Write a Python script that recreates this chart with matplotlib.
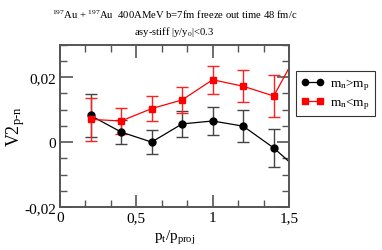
import matplotlib
matplotlib.use("Agg")
import matplotlib.pyplot as plt
from matplotlib.ticker import MultipleLocator, FuncFormatter
from matplotlib.lines import Line2D

plt.rcParams['font.family'] = ['Liberation Serif', 'DejaVu Serif']
plt.rcParams['mathtext.fontset'] = 'custom'
plt.rcParams['mathtext.rm'] = 'Liberation Serif'
plt.rcParams['mathtext.it'] = 'Liberation Serif'

x = [0.2, 0.4, 0.6, 0.8, 1.0, 1.2, 1.4, 1.6]
black_y = [0.0082, 0.0031, 0.0000, 0.0056, 0.0065, 0.0049, -0.0018, -0.0102]
black_err = [0.0065, 0.0038, 0.0038, 0.0041, 0.0043, 0.0050, 0.0058, 0.0058]
red_y = [0.0070, 0.0065, 0.0103, 0.0130, 0.0192, 0.0172, 0.0142, 0.0314]
red_err = [0.0067, 0.0041, 0.0038, 0.0039, 0.0043, 0.0049, 0.0064, 0.0064]
labels = [r'm$_\mathregular{n}$>m$_\mathregular{p}$', r'm$_\mathregular{n}$<m$_\mathregular{p}$']

fig = plt.figure(figsize=(3.82, 2.51), dpi=100)
ax = fig.add_axes([60/382, 1 - 208/251, 229/382, 162.3/251])

gray = '#555555'
ax.errorbar(x, black_y, yerr=black_err, color='black', ecolor='#444444',
            marker='o', ms=5, lw=0.9, elinewidth=1.0, capsize=4, capthick=1.0)
ax.errorbar(x, red_y, yerr=red_err, color='#ff0000', ecolor='#ff2020',
            marker='s', ms=5, lw=0.9, elinewidth=1.0, capsize=4, capthick=1.0)

ax.set_xlim(0, 1.5)
ax.set_ylim(-0.02, 0.03)
ax.xaxis.set_major_locator(MultipleLocator(0.5))
ax.xaxis.set_minor_locator(MultipleLocator(0.5/3))
ax.yaxis.set_major_locator(MultipleLocator(0.02))
ax.yaxis.set_minor_locator(MultipleLocator(0.005))

def fmt(v, pos):
    if abs(v) < 1e-12:
        return '0'
    return ('%g' % round(v, 4)).replace('.', ',')
ax.xaxis.set_major_formatter(FuncFormatter(fmt))
ax.yaxis.set_major_formatter(FuncFormatter(fmt))

ax.tick_params(which='both', direction='in', top=True, right=True, color=gray,
               labelsize=11, pad=3)
ax.tick_params(which='major', length=9, width=1.2)
ax.tick_params(which='minor', length=5, width=1.0)
for s in ax.spines.values():
    s.set_color(gray)
    s.set_linewidth(1.4)

ax.set_xlabel(r'p$_\mathregular{t}$/p$_\mathregular{proj}$', fontsize=11, labelpad=3)
ax.set_ylabel(r'V2$_\mathregular{p\text{-}n}$', fontsize=13, labelpad=-2)

ax.set_title(r'$^{197}$Au + $^{197}$Au  400AMeV b=7fm freeze out time 48 fm/c' + '\n'
             + r'asy-stiff |y/y$_\mathregular{0}$|<0.3', fontsize=7.7, pad=8, linespacing=1.4)

handles = [Line2D([], [], color='black', marker='o', ms=4.5, lw=0.9),
           Line2D([], [], color='#ff0000', marker='s', ms=4.5, lw=0.9)]
leg = fig.legend(handles, labels, loc='upper left', bbox_to_anchor=(296/382, 1 - 72/251),
                 fontsize=9.5, frameon=True, fancybox=False, edgecolor='black',
                 numpoints=2, handlelength=1.7, borderpad=0.4, labelspacing=0.25,
                 handletextpad=0.5, borderaxespad=0)
leg.get_frame().set_linewidth(0.8)

fig.savefig('out.png', dpi=100)
